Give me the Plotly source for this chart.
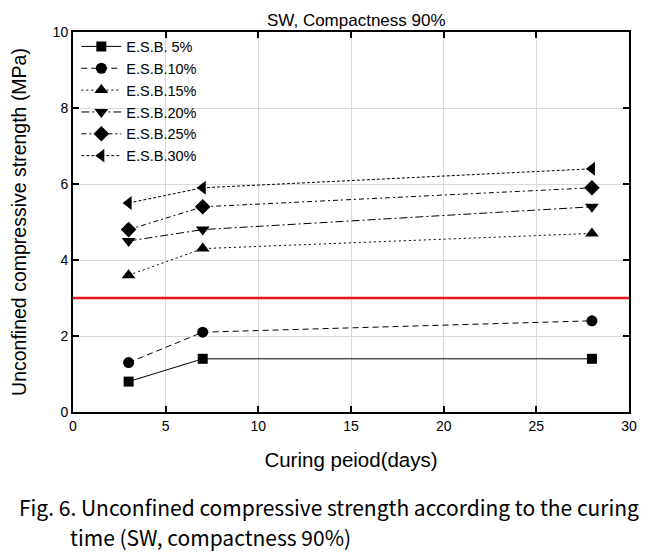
import plotly.graph_objects as go

days = [3, 7, 28]
series_names = ["E.S.B. 5%", "E.S.B.10%", "E.S.B.15%", "E.S.B.20%", "E.S.B.25%", "E.S.B.30%"]
esb5 = [0.8, 1.4, 1.4]
esb10 = [1.3, 2.1, 2.4]
esb15 = [3.6, 4.3, 4.7]
esb20 = [4.5, 4.8, 5.4]
esb25 = [4.8, 5.4, 5.9]
esb30 = [5.5, 5.9, 6.4]
threshold = 3.0
x_ticks = [0, 5, 10, 15, 20, 25, 30]
y_ticks = [0, 2, 4, 6, 8, 10]

values = [esb5, esb10, esb15, esb20, esb25, esb30]
symbols = ["square", "circle", "triangle-up", "triangle-down", "diamond", "triangle-left"]
dashes = ["solid", "6px,4px", "2px,3px", "8px,3px,2px,3px", "5px,3px,2px,3px", "3px,2px"]
sizes = [10, 11, 12, 12, 12, 12]

fig = go.Figure()
for name, vals, sym, dash, sz in zip(series_names, values, symbols, dashes, sizes):
    fig.add_trace(go.Scatter(
        x=days, y=vals, name=name, mode="lines+markers",
        line=dict(color="black", width=1, dash=dash),
        marker=dict(symbol=sym, size=sz, color="black"),
    ))

fig.add_shape(type="line", xref="paper", x0=0, x1=1, yref="y", y0=threshold, y1=threshold,
              line=dict(color="#e8141c", width=2.5))

axis_common = dict(
    showline=True, linecolor="black", linewidth=2, mirror="ticks",
    ticks="inside", ticklen=6, tickcolor="black", tickwidth=1.5,
    showgrid=True, gridcolor="#d9d9d9", gridwidth=1, zeroline=False,
    automargin=False,
    tickfont=dict(family="Liberation Sans, Arial", size=14, color="black"),
)

fig.update_layout(
    width=651, height=545,
    margin=dict(l=65, r=30, t=24, b=141),
    paper_bgcolor="white", plot_bgcolor="white",
    title=dict(text="SW, Compactness 90%", x=0.535, xanchor="center", y=0.978, yanchor="middle",
               font=dict(family="Liberation Sans, Arial", size=17, color="black")),
    xaxis=dict(range=[0, 30], tickvals=x_ticks, **axis_common,
               title=dict(text="Curing peiod(days)", standoff=20,
                          font=dict(family="Liberation Sans, Arial", size=20.5, color="black"))),
    yaxis=dict(range=[0, 10], tickvals=y_ticks, **axis_common,
               title=dict(text="Unconfined compressive strength (MPa)", standoff=22,
                          font=dict(family="Liberation Sans, Arial", size=19.5, color="black"))),
    legend=dict(x=0.006, y=1.004, xanchor="left", yanchor="top", bgcolor="rgba(0,0,0,0)",
                font=dict(family="Liberation Sans, Arial", size=14.5, color="black"),
                itemwidth=40, tracegroupgap=0),
    showlegend=True,
)

cap_font = dict(family="Noto Sans CJK KR, Liberation Sans", size=21, color="black")
fig.add_annotation(text="Fig. 6. Unconfined compressive strength according to the curing",
                   xref="paper", yref="paper", x=-0.1, y=-0.25, xanchor="left", yanchor="middle",
                   showarrow=False, font=cap_font)
fig.add_annotation(text="time (SW, compactness 90%)",
                   xref="paper", yref="paper", x=-0.0085, y=-0.329, xanchor="left", yanchor="middle",
                   showarrow=False, font=cap_font)

fig.write_html("out.html")
